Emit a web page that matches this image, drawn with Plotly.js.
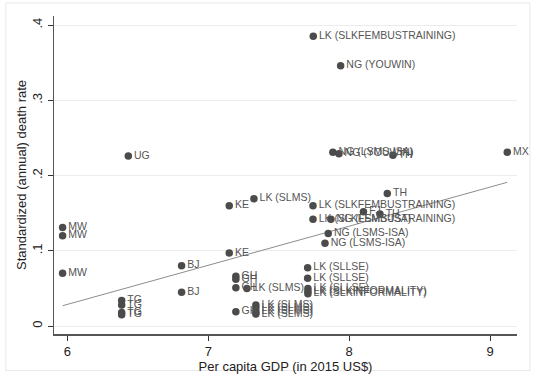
<!DOCTYPE html>
<html>
<head>
<meta charset="utf-8">
<script src="https://cdn.plot.ly/plotly-3.0.1.min.js"></script>
<style>html,body{margin:0;padding:0;background:#fff;}#chart{width:535px;height:377px;}</style>
</head>
<body>
<div id="chart"></div>
<script>
// Data
const labels = [
  "LK (SLKFEMBUSTRAINING)", "NG (YOUWIN)", "MX", "NG (LSMS-ISA)", "NG (YOUWIN)", "TH", "UG",
  "TH", "LK (SLMS)", "KE", "LK (SLKFEMBUSTRAINING)", "FJ", "TH", "LK (SLKFEMBUSTRAINING)",
  "NG (LSMS-ISA)", "NG (LSMS-ISA)", "NG (LSMS-ISA)", "MW", "MW", "MW", "KE", "BJ", "BJ",
  "TG", "TG", "TG", "TG", "GH", "GH", "GH", "GH", "LK (SLMS)",
  "LK (SLMS)", "LK (SLMS)", "LK (SLMS)", "LK (SLMS)",
  "LK (SLLSE)", "LK (SLLSE)", "LK (SLLSE)", "LK (SLKINFORMALITY)", "LK (SLKINFORMALITY)"
];
const gdp = [
  7.745, 7.939, 9.121, 7.884, 7.927, 8.310, 6.433,
  8.270, 7.324, 7.149, 7.743, 8.101, 8.218, 7.743,
  7.870, 7.851, 7.828, 5.967, 5.967, 5.967, 7.149, 6.811, 6.811,
  6.386, 6.386, 6.386, 6.386, 7.196, 7.196, 7.196, 7.196, 7.274,
  7.338, 7.338, 7.338, 7.338,
  7.705, 7.705, 7.707, 7.707, 7.707
];
const deathRate = [
  0.385, 0.346, 0.231, 0.231, 0.229, 0.227, 0.226,
  0.176, 0.169, 0.160, 0.160, 0.152, 0.149, 0.142,
  0.142, 0.123, 0.110, 0.131, 0.120, 0.070, 0.097, 0.080, 0.045,
  0.034, 0.028, 0.018, 0.015, 0.066, 0.062, 0.051, 0.019, 0.050,
  0.028, 0.024, 0.019, 0.016,
  0.0775, 0.0636, 0.050, 0.046, 0.043
];
// Fitted line endpoints
const fitX = [5.967, 9.121];
const fitY = [0.027, 0.191];
// Axis ticks
const yTickVals = [0, 0.1, 0.2, 0.3, 0.4];
const yTickText = ["0", ".1", ".2", ".3", ".4"];
const xTickVals = [6, 7, 8, 9];
const xTickText = ["6", "7", "8", "9"];

const font = "Liberation Sans, Arial, Helvetica, sans-serif";

const traces = [
  {
    x: fitX, y: fitY, type: "scatter", mode: "lines",
    line: {color: "#8c8c8c", width: 1}, hoverinfo: "skip", showlegend: false
  },
  {
    x: gdp, y: deathRate, text: labels, type: "scatter", mode: "markers+text",
    textposition: "middle right",
    textfont: {family: font, size: 10.5, color: "#555555"},
    marker: {color: "#4b4b4b", size: 7.5, line: {width: 0}},
    cliponaxis: false, showlegend: false
  }
];

const layout = {
  width: 535, height: 377,
  margin: {l: 54, r: 18, t: 16, b: 43},
  paper_bgcolor: "#ffffff", plot_bgcolor: "#ffffff",
  font: {family: font, color: "#222"},
  showlegend: false,
  xaxis: {
    range: [5.906, 9.19],
    tickvals: xTickVals, ticktext: xTickText,
    ticks: "outside", ticklen: 5, tickwidth: 1, tickcolor: "#333",
    showline: true, linecolor: "#555", linewidth: 1.5,
    showgrid: false, zeroline: false,
    tickfont: {family: font, size: 13, color: "#222"},
    title: {text: "Per capita GDP (in 2015 US$)", font: {family: font, size: 13, color: "#222"}, standoff: 0}
  },
  yaxis: {
    range: [-0.0106, 0.412],
    tickvals: yTickVals, ticktext: yTickText, tickangle: -90,
    ticks: "outside", ticklen: 5, tickwidth: 1, tickcolor: "#333",
    showline: true, linecolor: "#555", linewidth: 1.5,
    showgrid: true, gridcolor: "#ececec", gridwidth: 1, zeroline: false,
    tickfont: {family: font, size: 13, color: "#222"},
    title: {text: "Standardized (annual) death rate", font: {family: font, size: 13, color: "#222"}, standoff: 0}
  },
  shapes: [
    {type: "rect", xref: "paper", yref: "paper", x0: -0.104, x1: 1.028, y0: -0.115, y1: 1.041,
     line: {color: "#e8e8e8", width: 1}, fillcolor: "rgba(0,0,0,0)", layer: "below"}
  ]
};

Plotly.newPlot("chart", traces, layout, {displayModeBar: false, staticPlot: true});
</script>
</body>
</html>
